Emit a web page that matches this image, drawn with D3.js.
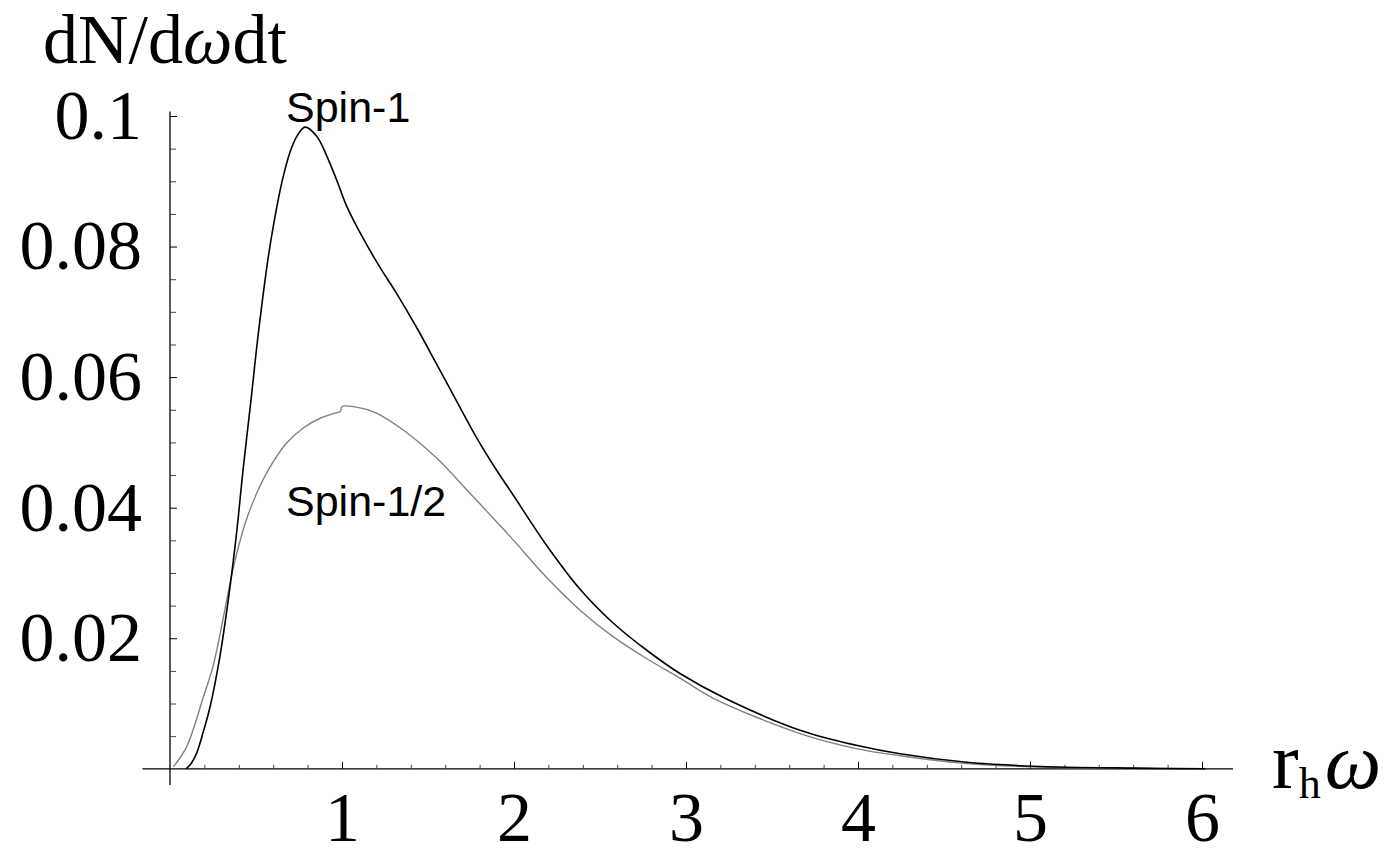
<!DOCTYPE html>
<html>
<head>
<meta charset="utf-8">
<script src="https://cdn.jsdelivr.net/npm/d3@7"></script>
<style>
    body { margin: 0; background: #fff; }
    svg { display: block; }
    .tick text { font-family: "Liberation Serif", "Times New Roman", serif; }
</style>
</head>
<body>
<div id="chart"></div>
<script>
// photon (spin-1) emission rate
const spin1Omega = [0.093, 0.12, 0.155, 0.194, 0.233, 0.29, 0.339, 0.387, 0.426, 0.471, 0.514,
    0.572, 0.61, 0.65, 0.698, 0.74, 0.785, 0.853, 0.911, 0.969, 1.027, 1.124, 1.221, 1.318, 1.434,
    1.55, 1.667, 1.783, 1.9, 1.996, 2.19, 2.384, 2.578, 2.77, 2.965, 3.227, 3.663, 3.99,
    4.244, 4.632, 5.02, 5.6, 6.02];
const spin1Rate = [0, 0.0007, 0.0024, 0.0057, 0.0095, 0.0172, 0.0259, 0.0361, 0.0461, 0.0565, 0.0668,
    0.0785, 0.0845, 0.0898, 0.0945, 0.097, 0.0983, 0.0969, 0.0939, 0.0902, 0.0862, 0.0812, 0.0768, 0.0728, 0.0676,
    0.062, 0.0563, 0.0507, 0.0457, 0.0419, 0.0342, 0.0275, 0.0223, 0.0182, 0.0146, 0.0108, 0.0059, 0.0036,
    0.0023, 0.001, 0.0004, 0.0001, 0];

// fermion (spin-1/2) emission rate
const spinHalfOmega = [0.02, 0.097, 0.194, 0.25, 0.29, 0.325, 0.359, 0.397, 0.446, 0.504, 0.581, 0.678,
    0.775, 0.872, 0.975, 0.99, 1.0, 1.085, 1.2, 1.356, 1.55, 1.744, 1.977, 2.19, 2.384,
    2.578, 2.77, 2.965, 3.16, 3.663, 3.99, 4.244, 4.632, 5.02, 5.6, 6.02];
const spinHalfRate = [0.0003, 0.0034, 0.011, 0.0157, 0.0205, 0.0252, 0.0297, 0.0339, 0.0383, 0.0422, 0.0462, 0.0499,
    0.0522, 0.0537, 0.0546, 0.0547, 0.0555, 0.0554, 0.0545, 0.0519, 0.0476, 0.0422, 0.0356, 0.0293, 0.0243,
    0.0202, 0.0169, 0.0139, 0.0108, 0.0054, 0.0031, 0.002, 0.0008, 0.0003, 0.0001, 0];

const xTickValues = [1, 2, 3, 4, 5, 6];
const xTickLabels = ['1', '2', '3', '4', '5', '6'];
const yTickValues = [0.02, 0.04, 0.06, 0.08, 0.1];
const yTickLabels = ['0.02', '0.04', '0.06', '0.08', '0.1'];

const width = 1386;
const height = 848;

const svg = d3.select('#chart')
    .append('svg')
    .attr('width', width)
    .attr('height', height);

const x = d3.scaleLinear().domain([0, 6]).range([170, 1202]);
const y = d3.scaleLinear().domain([0, 0.1]).range([768.8, 116]);

// axis lines (they run a little past the data range, like the original)
svg.append('line')
    .attr('x1', x(-0.16)).attr('x2', x(6.18))
    .attr('y1', y(0)).attr('y2', y(0))
    .attr('stroke', '#000').attr('stroke-width', 1.3);
svg.append('line')
    .attr('x1', x(0)).attr('x2', x(0))
    .attr('y1', y(0.1007)).attr('y2', y(-0.0025))
    .attr('stroke', '#000').attr('stroke-width', 1.3);

// minor ticks
const xMinor = d3.range(0.2, 6.01, 0.2).filter(v => Math.abs(v - Math.round(v)) > 0.01);
const yMinor = d3.range(0.005, 0.1001, 0.005).filter(v => Math.abs(v / 0.02 - Math.round(v / 0.02)) > 0.01);

svg.append('g')
    .attr('transform', `translate(0,${y(0)})`)
    .call(d3.axisBottom(x).tickValues(xMinor).tickSize(-4).tickFormat(''))
    .call(g => g.select('.domain').remove())
    .selectAll('line').attr('stroke', '#444');

svg.append('g')
    .attr('transform', `translate(${x(0)},0)`)
    .call(d3.axisLeft(y).tickValues(yMinor).tickSize(-6).tickFormat(''))
    .call(g => g.select('.domain').remove())
    .selectAll('line').attr('stroke', '#444');

// major ticks + labels
svg.append('g')
    .attr('transform', `translate(0,${y(0)})`)
    .call(d3.axisBottom(x)
        .tickValues(xTickValues)
        .tickSize(-7)
        .tickPadding(23)
        .tickFormat((d, i) => xTickLabels[i]))
    .call(g => g.select('.domain').remove())
    .call(g => g.selectAll('text').attr('font-size', 70).attr('fill', '#000'));

svg.append('g')
    .attr('transform', `translate(${x(0)},0)`)
    .call(d3.axisLeft(y)
        .tickValues(yTickValues)
        .tickSize(-7)
        .tickPadding(28)
        .tickFormat((d, i) => yTickLabels[i]))
    .call(g => g.select('.domain').remove())
    .call(g => g.selectAll('text').attr('font-size', 70).attr('fill', '#000'));

// curves
const line = d3.line()
    .x(d => x(d[0]))
    .y(d => y(d[1]))
    .curve(d3.curveCatmullRom.alpha(0.5));

svg.append('path')
    .datum(d3.zip(spinHalfOmega, spinHalfRate))
    .attr('d', line)
    .attr('fill', 'none')
    .attr('stroke', '#808080')
    .attr('stroke-width', 1.4);

svg.append('path')
    .datum(d3.zip(spin1Omega, spin1Rate))
    .attr('d', line)
    .attr('fill', 'none')
    .attr('stroke', '#000')
    .attr('stroke-width', 1.6);

// curve labels
svg.append('text')
    .attr('x', 286).attr('y', 122)
    .attr('font-family', '"Liberation Sans", Arial, sans-serif')
    .attr('font-size', 43)
    .text('Spin-1');

svg.append('text')
    .attr('x', 286).attr('y', 516)
    .attr('font-family', '"Liberation Sans", Arial, sans-serif')
    .attr('font-size', 43)
    .text('Spin-1/2');

// axis titles
const yTitle = svg.append('text')
    .attr('x', 43).attr('y', 63)
    .attr('font-family', '"Liberation Serif", "Times New Roman", serif')
    .attr('font-size', 70);
yTitle.append('tspan').text('dN/d');
yTitle.append('tspan').attr('font-style', 'italic').text('ω');
yTitle.append('tspan').text('dt');

const xTitle = svg.append('text')
    .attr('x', 1272).attr('y', 788)
    .attr('font-family', '"Liberation Serif", "Times New Roman", serif')
    .attr('font-size', 80);
xTitle.append('tspan').text('r');
xTitle.append('tspan').attr('font-size', 44).attr('dy', 10).text('h');
xTitle.append('tspan').attr('font-style', 'italic').attr('dy', -10).attr('dx', 4).text('ω');
</script>
</body>
</html>
